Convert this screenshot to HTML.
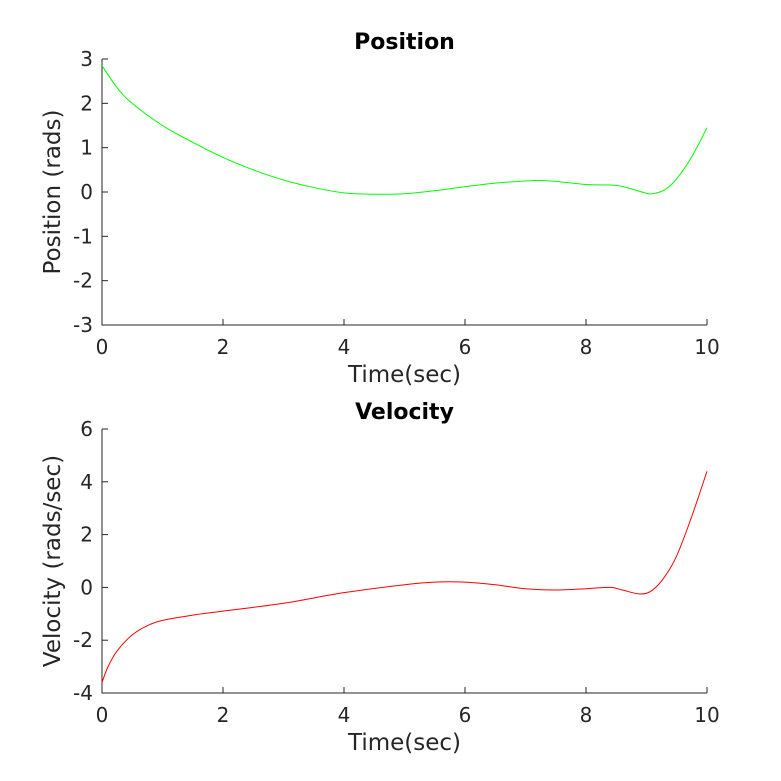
<!DOCTYPE html>
<html><head><meta charset="utf-8"><style>
html,body{margin:0;padding:0;background:#fff;}
svg{display:block;font-family:"DejaVu Sans","Liberation Sans",sans-serif;}
</style></head><body>
<svg id="chart" width="781" height="781" viewBox="0 0 781 781"></svg>
<script>
const posTimes=[0,0.25,0.5,1,1.5,2,2.5,3,3.5,4,4.5,5,5.5,6,6.5,7,7.2,7.5,8,8.5,8.8,9,9.1,9.3,9.5,9.75,10];
const posValues=[2.85,2.35,2.0,1.5,1.12,0.78,0.5,0.27,0.1,-0.02,-0.05,-0.04,0.03,0.12,0.2,0.25,0.26,0.24,0.17,0.15,0.05,-0.03,-0.04,0.05,0.3,0.8,1.45];
const velTimes=[0,0.1,0.25,0.5,0.75,1,1.5,2,3,4,5,5.5,6,6.5,7,7.5,8,8.4,8.6,8.9,9.1,9.3,9.5,9.75,10];
const velValues=[-3.6,-3.0,-2.4,-1.8,-1.45,-1.25,-1.05,-0.9,-0.6,-0.2,0.1,0.2,0.2,0.1,-0.05,-0.1,-0.05,0,-0.1,-0.25,-0.1,0.4,1.2,2.7,4.4];
const xTicks=[0,2,4,6,8,10];
const posTicks=[3,2,1,0,-1,-2,-3];
const velTicks=[6,4,2,0,-2,-4];
const NS='http://www.w3.org/2000/svg';
const svg=document.getElementById('chart');
function mk(tag,attrs,parent){const e=document.createElementNS(NS,tag);for(const k in attrs)e.setAttribute(k,attrs[k]);(parent||svg).appendChild(e);return e;}
function smooth(pts){let d='M'+pts[0][0]+','+pts[0][1];for(let i=0;i<pts.length-1;i++){const p0=pts[Math.max(0,i-1)],p1=pts[i],p2=pts[i+1],p3=pts[Math.min(pts.length-1,i+2)];const c1x=p1[0]+(p2[0]-p0[0])/6,c1y=p1[1]+(p2[1]-p0[1])/6,c2x=p2[0]-(p3[0]-p1[0])/6,c2y=p2[1]-(p3[1]-p1[1])/6;d+=' C'+c1x+','+c1y+' '+c2x+','+c2y+' '+p2[0]+','+p2[1];}return d;}
function panel(o){
  const x=v=>o.x0+(v-0)/(10-0)*(o.x1-o.x0);
  const y=v=>o.y0+(o.ymax-v)/(o.ymax-o.ymin)*(o.y1-o.y0);
  const g=mk('g',{});
  
  
  const ax=mk('path',{d:`M${o.x0},${o.y0} V${o.y1} H${o.x1}`,stroke:'#262626',fill:'none','stroke-width':1},g);
  
  xTicks.forEach(t=>{const px=x(t);
    mk('line',{x1:px,x2:px,y1:o.y1,y2:o.y1-6,stroke:'#262626'},g);
    const tx=mk('text',{x:px,y:o.y1+29,'text-anchor':'middle','font-size':20,fill:'#262626'},g);tx.textContent=t;
    });
  o.ticks.forEach(t=>{const py=y(t);
    mk('line',{x1:o.x0,x2:o.x0+6,y1:py,y2:py,stroke:'#262626'},g);
    const tx=mk('text',{x:o.x0-9,y:py+7,'text-anchor':'end','font-size':20,fill:'#262626'},g);tx.textContent=t;
    });
  const pts=o.t.map((t,i)=>[x(t),y(o.v[i])]);
  const ln=mk('path',{d:smooth(pts),stroke:o.color,fill:'none','stroke-width':1},g);
  
  const tt=mk('text',{x:(o.x0+o.x1)/2,y:o.y0-10,'text-anchor':'middle','font-size':22,'font-weight':'bold',fill:'#000'},g);tt.textContent=o.title;
  
  const xl=mk('text',{x:(o.x0+o.x1)/2,y:o.y1+57,'text-anchor':'middle','font-size':23,fill:'#262626'},g);xl.textContent='Time(sec)';
  
  const cy=(o.y0+o.y1)/2;
  const yl=mk('text',{x:o.ylx,y:cy,'text-anchor':'middle','font-size':23,fill:'#262626',transform:`rotate(-90 ${o.ylx} ${cy})`},g);yl.textContent=o.ylabel;
  
}
panel({name:'position-panel',x0:102,x1:707,y0:59,y1:325,ymin:-3,ymax:3,ticks:posTicks,t:posTimes,v:posValues,color:'#00ff00',lineName:'position-line',title:'Position',ylabel:'Position (rads)',ylx:60});
panel({name:'velocity-panel',x0:102,x1:707,y0:429,y1:693,ymin:-4,ymax:6,ticks:velTicks,t:velTimes,v:velValues,color:'#ff0000',lineName:'velocity-line',title:'Velocity',ylabel:'Velocity (rads/sec)',ylx:60});
</script>
</body></html>
